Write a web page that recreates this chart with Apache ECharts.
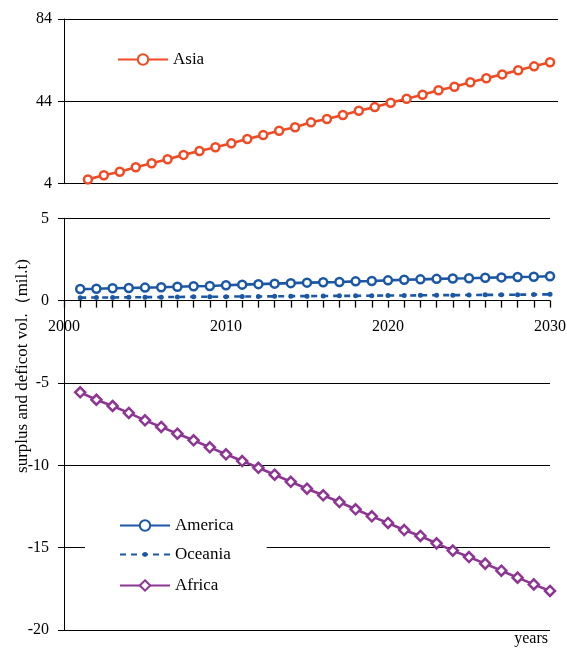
<!DOCTYPE html>
<html>
<head>
<meta charset="utf-8">
<script src="https://cdn.jsdelivr.net/npm/echarts@6/dist/echarts.min.js"></script>
<style>
html,body{margin:0;padding:0;background:#fff;}
#c{width:567px;height:649px;}
</style>
</head>
<body>
<div id="c"></div>
<script>
const years = [2001,2002,2003,2004,2005,2006,2007,2008,2009,2010,2011,2012,2013,2014,2015,2016,2017,2018,2019,2020,2021,2022,2023,2024,2025,2026,2027,2028,2029,2030];
const asia = [6.1,8.1,9.8,12.0,13.9,15.9,18.0,19.9,21.7,23.6,25.7,27.6,29.7,31.4,33.8,35.4,37.4,39.4,41.2,43.3,45.3,47.2,49.4,51.1,53.3,55.2,57.1,59.1,61.0,63.0];
const america = [0.70,0.72,0.75,0.77,0.79,0.81,0.84,0.87,0.89,0.93,0.97,1.00,1.03,1.06,1.09,1.11,1.13,1.17,1.19,1.23,1.27,1.29,1.32,1.34,1.36,1.39,1.41,1.43,1.45,1.48];
const oceania = [0.18,0.19,0.19,0.20,0.21,0.21,0.22,0.23,0.23,0.24,0.25,0.25,0.26,0.27,0.27,0.28,0.29,0.29,0.30,0.31,0.31,0.32,0.33,0.33,0.34,0.35,0.35,0.36,0.37,0.38];
const africa = [-5.57,-6.02,-6.40,-6.82,-7.27,-7.67,-8.08,-8.48,-8.91,-9.33,-9.74,-10.15,-10.57,-11.00,-11.42,-11.82,-12.23,-12.67,-13.10,-13.50,-13.93,-14.29,-14.74,-15.18,-15.57,-15.97,-16.40,-16.82,-17.23,-17.63];
const topTicks = {min: 4, max: 84, interval: 40};
const posTicks = {min: 0, max: 5, interval: 5};
const negTicks = {min: -20, max: 0, interval: 5};
const xTicks = {min: 2000, max: 2030, interval: 1, labelEvery: 10};
const yAxisName = 'surplus and deficot vol.\uFF08mil.t)';
const xAxisName = 'years';

const FONT = 'Liberation Serif';
const pair = (ys, vs) => ys.map((y, i) => [y, vs[i]]);
const C_ASIA = '#ef4b25', C_BLUE = '#1c57a6', C_AFR = '#8c3592';
const LBL = {fontFamily: FONT, fontSize: 16, color: '#000'};
const LEG = {fontFamily: FONT, fontSize: 17, color: '#000'};
const BLACK = {color: '#000', width: 1};

const chart = echarts.init(document.getElementById('c'), null, {renderer: 'canvas'});
chart.setOption({
  backgroundColor: '#fff',
  animation: false,
  textStyle: {fontFamily: FONT},
  grid: [
    {left: 64, top: 19, width: 494, height: 164.7, containLabel: false, outerBoundsMode: 'none'},
    {left: 64, top: 218.3, width: 486, height: 82.3, containLabel: false, outerBoundsMode: 'none'},
    {left: 64, top: 300.6, width: 486, height: 329.4, containLabel: false, outerBoundsMode: 'none'}
  ],
  legend: [
    {data: ['Asia'], left: 117, top: 51, padding: 0, itemWidth: 50, itemHeight: 13, textStyle: LEG},
    {data: ['America'], left: 119, top: 517, padding: 0, itemWidth: 50, itemHeight: 13, textStyle: LEG},
    {data: ['Oceania'], left: 85, top: 534, padding: [12, 36, 12, 34], backgroundColor: '#fff',
     itemWidth: 50, itemHeight: 6, textStyle: LEG},
    {data: ['Africa'], left: 119, top: 577, padding: 0, itemWidth: 50, itemHeight: 13, textStyle: LEG}
  ],
  xAxis: [
    {type: 'value', gridIndex: 0, min: 1999.5, max: 2030.5, show: false},
    {type: 'value', gridIndex: 1, min: xTicks.min, max: xTicks.max, interval: xTicks.interval,
     position: 'bottom', z: 10,
     axisLine: {show: true, onZero: false, lineStyle: BLACK},
     axisTick: {show: true, inside: false, length: 7, lineStyle: {color: '#000', width: 1.3}},
     axisLabel: Object.assign({margin: 18, formatter: v => (v % xTicks.labelEvery === 0 ? String(v) : '')}, LBL),
     splitLine: {show: false}},
    {type: 'value', gridIndex: 2, min: xTicks.min, max: xTicks.max, show: false}
  ],
  yAxis: [
    {type: 'value', gridIndex: 0, min: topTicks.min, max: topTicks.max, interval: topTicks.interval,
     axisLine: {show: true, lineStyle: BLACK},
     axisTick: {show: true, length: 6, lineStyle: {color: '#000'}},
     axisLabel: Object.assign({margin: 12}, LBL),
     splitLine: {show: true, lineStyle: BLACK}},
    {type: 'value', gridIndex: 1, min: posTicks.min, max: posTicks.max, interval: posTicks.interval,
     axisLine: {show: true, onZero: false, lineStyle: BLACK},
     axisTick: {show: true, length: 6, lineStyle: {color: '#000'}},
     axisLabel: Object.assign({margin: 15}, LBL),
     splitLine: {show: true, lineStyle: BLACK}},
    {type: 'value', gridIndex: 2, min: negTicks.min, max: negTicks.max, interval: negTicks.interval,
     axisLine: {show: true, onZero: false, lineStyle: BLACK},
     axisTick: {show: true, length: 6, lineStyle: {color: '#000'}},
     axisLabel: Object.assign({margin: 15, showMaxLabel: false}, LBL),
     splitLine: {show: true, lineStyle: BLACK}}
  ],
  graphic: [
    {type: 'text', x: 23, y: 366, rotation: Math.PI / 2,
     style: {text: yAxisName, fontFamily: FONT, fontSize: 17, fill: '#000', align: 'center', verticalAlign: 'middle'}},
    {type: 'text', right: 19, top: 631, style: {text: xAxisName, fontFamily: FONT, fontSize: 16, fill: '#000'}}
  ],
  series: [
    {name: 'Asia', type: 'line', xAxisIndex: 0, yAxisIndex: 0, data: pair(years, asia),
     symbol: 'circle', symbolSize: 8, color: C_ASIA,
     lineStyle: {color: C_ASIA, width: 2.6},
     itemStyle: {color: '#fff', borderColor: C_ASIA, borderWidth: 2.5}},
    {name: 'Oceania', type: 'line', xAxisIndex: 1, yAxisIndex: 1, data: pair(years, oceania),
     symbol: 'circle', symbolSize: 5, color: C_BLUE,
     lineStyle: {color: C_BLUE, width: 2.6, type: [6, 5]},
     itemStyle: {color: C_BLUE, borderWidth: 0}},
    {name: 'America', type: 'line', xAxisIndex: 1, yAxisIndex: 1, data: pair(years, america),
     symbol: 'circle', symbolSize: 8, color: C_BLUE,
     lineStyle: {color: C_BLUE, width: 2.6},
     itemStyle: {color: '#fff', borderColor: C_BLUE, borderWidth: 2.5}},
    {name: 'Africa', type: 'line', xAxisIndex: 2, yAxisIndex: 2, data: pair(years, africa),
     symbol: 'diamond', symbolSize: 10, color: C_AFR,
     lineStyle: {color: C_AFR, width: 2.6},
     itemStyle: {color: '#fff', borderColor: C_AFR, borderWidth: 2.5}}
  ]
});
</script>
</body>
</html>
